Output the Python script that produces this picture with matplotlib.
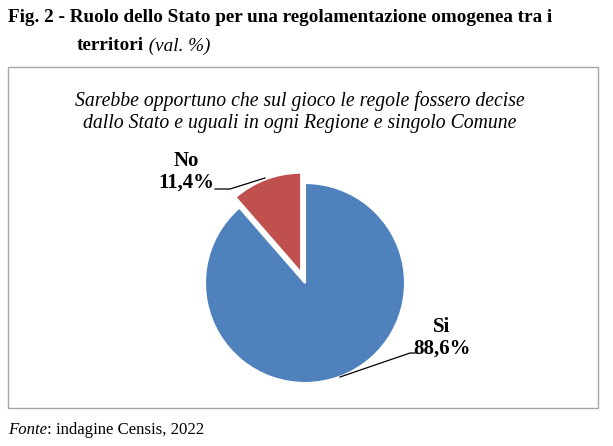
import matplotlib
matplotlib.use("Agg")
import matplotlib.pyplot as plt
from matplotlib.patches import Rectangle

# ---- data -------------------------------------------------------------------
labels = ["Si", "No"]
values = [88.6, 11.4]
colors = ["#4F81BD", "#C0504D"]

W, H = 613, 446
SERIF = ["Liberation Serif", "DejaVu Serif"]


def py(y):
    # pixel row (from top) -> data y
    return H - y


fig = plt.figure(figsize=(W / 100, H / 100), dpi=100)
ax = fig.add_axes([0, 0, 1, 1])
ax.set_xlim(0, W)
ax.set_ylim(0, H)
ax.set_aspect("equal")
ax.axis("off")

# title
ax.text(8, py(18), "Fig. 2 - Ruolo dello Stato per una regolamentazione omogenea tra i",
        family=SERIF, weight="bold", fontsize=13.75, ha="left", va="center")
t2 = ax.text(77, py(46), "territori", family=SERIF, weight="bold",
             fontsize=13.75, ha="left", va="center")
ax.annotate(" (val. %)", xy=(1, 0.5), xycoords=t2, family=SERIF,
            style="italic", fontsize=13.75, ha="left", va="center")

# frame
ax.add_patch(Rectangle((8, py(408)), 590, 341, fill=False,
                       edgecolor="#a6a6a6", linewidth=1.0))

ax.text(300, py(112), "Sarebbe opportuno che sul gioco le regole fossero decise\n"
        "dallo Stato e uguali in ogni Regione e singolo Comune",
        family=SERIF, style="italic", fontsize=14.2, ha="center", va="center",
        linespacing=1.15)

# pie (explode is in data units here, so scale by radius)
cx, cy, r = 305, py(283), 100
ax.pie(values, colors=colors, explode=[0, 0.11 * r], startangle=90,
       counterclock=False, center=(cx, cy), radius=r,
       wedgeprops=dict(edgecolor="white", linewidth=1.5))
ax.set_xlim(0, W)
ax.set_ylim(0, H)

fmt = lambda v: f"{v:.1f}%".replace(".", ",")
lbl = dict(family=SERIF, weight="bold", fontsize=15, ha="center", va="center",
           linespacing=1.12)
ax.text(186, py(172), f"{labels[1]}\n{fmt(values[1])}", **lbl)
ax.plot([215, 230, 265], [py(189), py(189), py(178)], color="black", lw=0.9)
ax.text(442, py(338), f"{labels[0]}\n{fmt(values[0])}", **lbl)
ax.plot([340, 410, 417], [py(377), py(353), py(353)], color="black", lw=0.9)

# source
f1 = ax.text(8, py(430), "Fonte", family=SERIF, style="italic",
             fontsize=12.1, ha="left", va="center")
ax.annotate(": indagine Censis, 2022", xy=(1, 0.5), xycoords=f1, family=SERIF,
            fontsize=12.1, ha="left", va="center")

fig.savefig("out.png", dpi=100)
